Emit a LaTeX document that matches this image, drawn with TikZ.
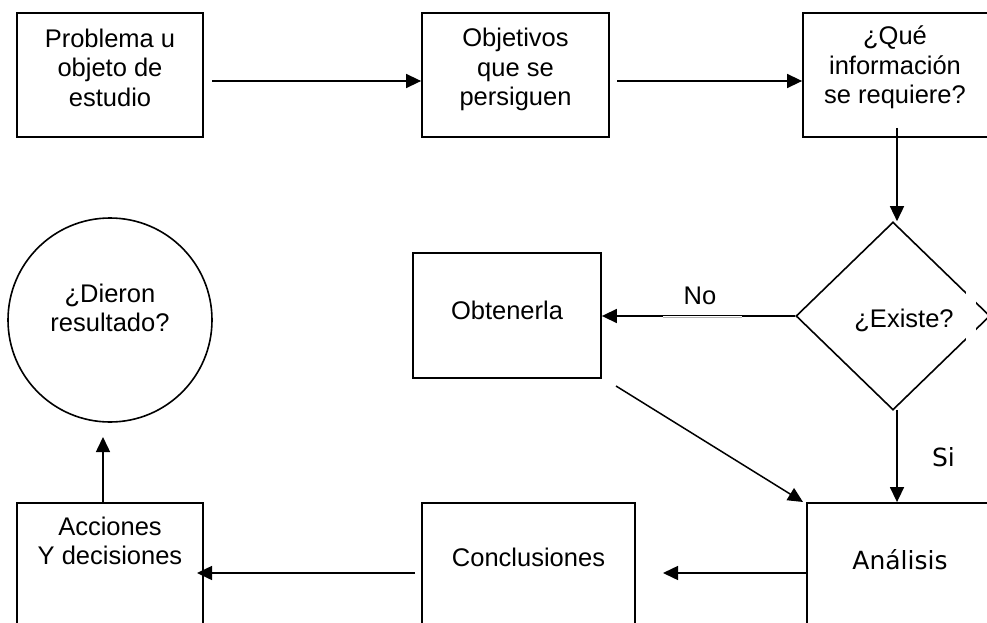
\documentclass[tikz,border=0pt]{standalone}
\usepackage{fontspec}
\setmainfont{Liberation Sans}
\newfontfamily\verd{DejaVu Sans}
\usetikzlibrary{arrows.meta,shapes.geometric}
\begin{document}
\begin{tikzpicture}[x=1pt,y=-1pt,
  box/.style={draw,line width=1.8pt,rectangle,inner sep=0pt},
  txt/.style={align=center,inner sep=0pt,font=\fontsize{25.5}{29.5}\selectfont},
  arr/.style={line width=1.5pt,-{Triangle[length=15pt,width=14pt]}},
  ]
\useasboundingbox (0,0) rectangle (987,623);
\fill[white] (0,0) rectangle (987,623);
\clip (0,0) rectangle (987,623);

% top row
\node[box,minimum width=186pt,minimum height=124pt] (b1) at (110,75) {};
\node[box,minimum width=187pt,minimum height=124pt] (b2) at (515.5,75) {};
\node[box,minimum width=187pt,minimum height=124pt] (b3) at (896.5,75) {};
\node[txt] (b1t) at (110,67.6) {Problema u\\objeto de\\estudio};
\node[txt] (b2t) at (515.5,69.9) {Objetivos\\que se\\persiguen};
\node[txt] (b3t) at (895,67.5) {¿Qué\\información\\se requiere?};

% decision and retrieval
\node[draw,line width=1.6pt,diamond,minimum width=194pt,minimum height=188pt,inner sep=0pt] (dm) at (893,316) {};
\fill[white] (966,291) rectangle (976,341);
\node[txt] (ext) at (904,320.4) {¿Existe?};
\node[box,minimum width=188pt,minimum height=125pt] (obt) at (507,315.5) {};
\node[txt] (obtt) at (507,310) {Obtenerla};

% loop check
\node[draw,line width=1.6pt,circle,minimum size=204pt,inner sep=0pt] (cir) at (110,320) {};
\node[txt] (cirt) at (110,307.9) {¿Dieron\\resultado?};

% bottom row
\node[box,minimum width=186pt,minimum height=125pt] (acc) at (110,565.5) {};
\node[box,minimum width=213pt,minimum height=125pt] (con) at (528.5,565.5) {};
\node[box,minimum width=187pt,minimum height=125pt] (an) at (900.5,565.5) {};
\node[txt] (acct) at (110,540.9) {Acciones\\Y decisiones};
\node[txt] (cont) at (528.5,557) {Conclusiones};
\node[txt,font=\verd\fontsize{25}{29.5}\selectfont] (ant) at (900,560) {Análisis};

% connector end points
\coordinate (p12) at (212,81);
\coordinate (p23) at (617,81);
\coordinate (p3d) at (897,128);
\coordinate (pda) at (897,410);
\coordinate (poa) at (616,386);
\coordinate (poe) at (803,502);
\coordinate (pac) at (663,573);
\coordinate (pcs) at (415,573);
\coordinate (pca) at (197,573);
\coordinate (pup) at (103,503);
\coordinate (pct) at (103,437);

% connectors
\draw[arr] (p12) -- (p12 -| b2.west);
\draw[arr] (p23) -- (p23 -| b3.west);
\draw[arr] (p3d) -- (p3d |- dm.north);
\draw[arr] (dm.west) -- (dm.west -| obt.east);
\draw[white,line width=2.4pt] (663,317) -- (742,317);
\draw[black!30,line width=0.6pt] (663,317) -- (742,317);
\node[txt] (not) at (700,296) {No};
\draw[arr] (poa) -- (poe);
\draw[arr] (pda) -- (pda |- an.north);
\node[txt,font=\verd\fontsize{25}{29.5}\selectfont] (sit) at (943.5,457.5) {Si};
\draw[arr] (an.west |- pac) -- (pac);
\draw[arr] (pcs) -- (pca);
\draw[arr] (pup) -- (pct);
\end{tikzpicture}
\end{document}
